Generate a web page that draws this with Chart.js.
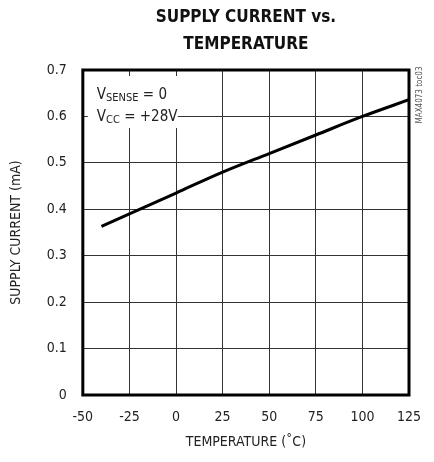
<!DOCTYPE html>
<html>
<head>
<meta charset="utf-8">
<script src="https://cdn.jsdelivr.net/npm/chart.js@4.4.0/dist/chart.umd.min.js"></script>
<style>
  html, body { margin: 0; padding: 0; background: #fff; }
</style>
</head>
<body>
<canvas id="chart" width="434" height="462"></canvas>
<script>
// data
const temps = [-40, -25, 0, 25, 50, 75, 100, 125];
const currents = [0.363, 0.39, 0.435, 0.48, 0.52, 0.56, 0.60, 0.636];

const xTicks = [-50, -25, 0, 25, 50, 75, 100, 125];
const yTicks = [0, 0.1, 0.2, 0.3, 0.4, 0.5, 0.6, 0.7];

const titleLines = ["SUPPLY CURRENT vs.", "TEMPERATURE"];

const FONT = "'Liberation Sans Narrow', 'DejaVu Sans Condensed', 'Liberation Sans', sans-serif";

// title centred on the plot, frame, annotation box, side label
const extras = {
  id: "extras",
  afterDatasetsDraw(chart) {
    const ctx = chart.ctx;
    const a = chart.chartArea;
    ctx.save();

    // title
    ctx.fillStyle = "#111";
    ctx.textAlign = "center";
    ctx.textBaseline = "middle";
    ctx.font = "bold 17px " + FONT;
    const cx = (a.left + a.right) / 2;
    ctx.fillText(titleLines[0], cx, 18);
    ctx.fillText(titleLines[1], cx, 45);

    // white box behind the conditions text
    ctx.textAlign = "left";
    ctx.fillStyle = "#fff";
    ctx.fillRect(a.left + 5, a.top + 6, 90, 52);

    ctx.fillStyle = "#222";
    ctx.textBaseline = "alphabetic";
    let x = a.left + 14, y = a.top + 29;
    ctx.font = "15px " + FONT;
    ctx.fillText("V", x, y);
    x += ctx.measureText("V").width;
    ctx.font = "11px " + FONT;
    ctx.fillText("SENSE", x, y + 2);
    x += ctx.measureText("SENSE").width;
    ctx.font = "15px " + FONT;
    ctx.fillText(" = 0", x, y);

    x = a.left + 14; y = a.top + 51;
    ctx.fillText("V", x, y);
    x += ctx.measureText("V").width;
    ctx.font = "11px " + FONT;
    ctx.fillText("CC", x, y + 2);
    x += ctx.measureText("CC").width;
    ctx.font = "15px " + FONT;
    ctx.fillText(" = +28V", x, y);

    // thick frame
    ctx.strokeStyle = "#000";
    ctx.lineWidth = 3;
    ctx.strokeRect(a.left, a.top, a.right - a.left, a.bottom - a.top);

    // drawing code
    ctx.translate(a.right + 11, a.top + 25);
    ctx.rotate(-Math.PI / 2);
    ctx.font = "8px " + FONT;
    ctx.fillStyle = "#555";
    ctx.textAlign = "center";
    ctx.textBaseline = "middle";
    ctx.fillText("MAX4073 toc03", 0, 0);
    ctx.restore();
  }
};

new Chart(document.getElementById("chart"), {
  type: "line",
  data: {
    datasets: [{
      data: temps.map((t, i) => ({ x: t, y: currents[i] })),
      borderColor: "#000",
      borderWidth: 3,
      pointRadius: 0,
      cubicInterpolationMode: "monotone",
      fill: false
    }]
  },
  options: {
    responsive: false,
    animation: false,
    devicePixelRatio: 1,
    layout: { padding: { left: 8, right: 25, top: 70, bottom: 13 } },
    plugins: {
      legend: { display: false },
      tooltip: { enabled: false },
      title: { display: false }
    },
    scales: {
      x: {
        type: "linear",
        min: -50, max: 125,
        afterBuildTicks: s => { s.ticks = xTicks.map(v => ({ value: v })); },
        afterFit: s => { s.paddingLeft = 0; s.paddingRight = 0; },
        grid: { color: "#333", lineWidth: 1, drawTicks: false },
        border: { display: false },
        ticks: { color: "#222", font: { family: FONT, size: 14, lineHeight: 1 }, padding: 15, maxRotation: 0 },
        title: {
          display: true, text: "TEMPERATURE (˚C)", color: "#222",
          font: { family: FONT, size: 14, lineHeight: 1 }, padding: { top: -4, bottom: 0 }
        }
      },
      y: {
        min: 0, max: 0.7,
        afterBuildTicks: s => { s.ticks = yTicks.map(v => ({ value: v })); },
        grid: { color: "#333", lineWidth: 1, drawTicks: false },
        border: { display: false },
        ticks: {
          color: "#222", font: { family: FONT, size: 14 }, padding: 16,
          callback: v => v === 0 ? "0" : v.toFixed(1)
        },
        title: {
          display: true, text: "SUPPLY CURRENT (mA)", color: "#222",
          font: { family: FONT, size: 14 }, padding: { top: 0, bottom: 6 }
        }
      }
    }
  },
  plugins: [extras]
});
</script>
</body>
</html>
